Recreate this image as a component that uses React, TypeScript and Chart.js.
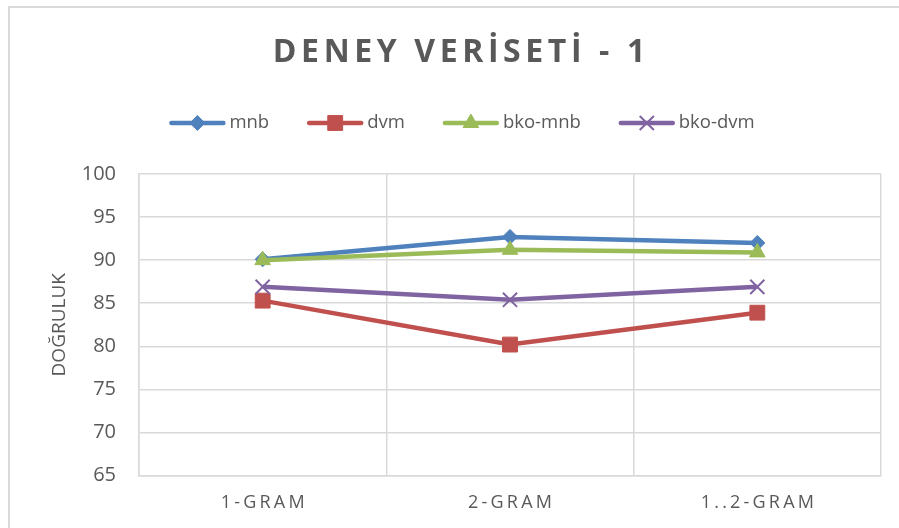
import React, { useEffect, useRef } from 'react';
import { Chart, registerables } from 'chart.js';
import { drawPoint } from 'chart.js/helpers';

Chart.register(...registerables);

// ---- data ----
const TITLE = 'DENEY VERİSETİ - 1';
const Y_TITLE = 'DOĞRULUK';
const categories = ['1-GRAM', '2-GRAM', '1..2-GRAM'];
const seriesNames = ['mnb', 'dvm', 'bko-mnb', 'bko-dvm'];
const mnb = [90.1, 92.7, 92.0];
const dvm = [85.3, 80.2, 83.9];
const bkoMnb = [90.0, 91.2, 90.9];
const bkoDvm = [86.9, 85.4, 86.9];
const yMin = 65;
const yMax = 100;
const yStep = 5;

// ---- styles ----
const FONT = "'Open Sans', 'DejaVu Sans', sans-serif";
const TEXT = '#595959';
const GRID = '#D9D9D9';
const COLORS = ['#4F81BD', '#C0504D', '#9BBB59', '#8064A2'];
const STYLES = ['rectRot', 'rect', 'triangle', 'crossRot'];
const RADII = [7.5, 10.5, 9, 10];
const BORDERW = [1, 1, 1, 2];

const titlePlugin = {
  id: 'spacedTitle',
  afterDraw(chart: any) {
    const ctx = chart.ctx;
    ctx.save();
    ctx.font = `bold 32px ${FONT}`;
    ctx.fillStyle = TEXT;
    ctx.textBaseline = 'middle';
    ctx.textAlign = 'left';
    const ls = 4.6;
    (ctx as any).letterSpacing = ls + 'px';
    const w = ctx.measureText(TITLE).width - ls;
    ctx.fillText(TITLE, 459 - w / 2, 53);
    ctx.restore();
  },
};

const xLabelPlugin = {
  id: 'spacedXLabels',
  afterDraw(chart: any) {
    const ctx = chart.ctx;
    const xs = chart.scales.x;
    ctx.save();
    ctx.font = `18px ${FONT}`;
    ctx.fillStyle = TEXT;
    ctx.textBaseline = 'middle';
    ctx.textAlign = 'left';
    const ls = 3.2;
    (ctx as any).letterSpacing = ls + 'px';
    chart.data.labels.forEach((lab: string, i: number) => {
      const x = xs.getPixelForValue(i);
      const w = ctx.measureText(lab).width - ls;
      ctx.fillText(lab, x - w / 2, xs.bottom + 27);
    });
    ctx.restore();
  },
};

const legendPlugin = {
  id: 'lineLegend',
  afterDraw(chart: any) {
    const ctx = chart.ctx;
    const ds = chart.data.datasets;
    const lineLen = 56;
    const gap = 4;
    const itemGap = 38;
    ctx.save();
    ctx.font = `18.5px ${FONT}`;
    const widths = ds.map((d: any) => ctx.measureText(d.label).width);
    const total = widths.reduce((a: number, b: number) => a + b, 0) + ds.length * (lineLen + gap) + (ds.length - 1) * itemGap;
    let x = 462 - total / 2;
    const y = 123;
    ds.forEach((d: any, i: number) => {
      ctx.strokeStyle = d.borderColor;
      ctx.lineWidth = 4.5;
      ctx.lineCap = 'round';
      ctx.beginPath();
      ctx.moveTo(x + 2, y);
      ctx.lineTo(x + lineLen - 2, y);
      ctx.stroke();
      ctx.fillStyle = d.pointBackgroundColor;
      ctx.strokeStyle = d.pointBorderColor;
      ctx.lineWidth = d.pointBorderWidth;
      ctx.lineCap = 'butt';
      drawPoint(ctx, { pointStyle: d.pointStyle, radius: d.pointRadius, borderWidth: d.pointBorderWidth, rotation: 0 } as any, x + lineLen / 2, y);
      ctx.fillStyle = TEXT;
      ctx.textAlign = 'left';
      ctx.textBaseline = 'middle';
      ctx.fillText(d.label, x + lineLen + gap, y);
      x += lineLen + gap + widths[i] + itemGap;
    });
    ctx.restore();
  },
};

export default function App() {
  const ref = useRef<HTMLCanvasElement>(null);
  useEffect(() => {
    if (!ref.current) return;
    const values = [mnb, dvm, bkoMnb, bkoDvm];
    const chart = new Chart(ref.current, {
      type: 'line',
      data: {
        labels: categories,
        datasets: seriesNames.map((name, i) => ({
          label: name,
          data: values[i],
          borderColor: COLORS[i],
          backgroundColor: COLORS[i],
          borderWidth: 4.5,
          pointStyle: STYLES[i] as any,
          pointRadius: RADII[i],
          pointBorderWidth: BORDERW[i],
          pointBackgroundColor: COLORS[i],
          pointBorderColor: COLORS[i],
          tension: 0,
          fill: false,
          order: seriesNames.length - i,
        })),
      },
      options: {
        responsive: false,
        animation: false,
        devicePixelRatio: 1,
        layout: { padding: { top: 174, left: 48.6, right: 18, bottom: 52.5 } },
        plugins: {
          legend: { display: false },
          tooltip: { enabled: false },
          title: { display: false },
        },
        scales: {
          x: {
            type: 'category',
            offset: true,
            grid: { offset: true, color: GRID, lineWidth: 1.5, drawTicks: false },
            border: { color: GRID, width: 1.5 },
            ticks: { display: false },
          },
          y: {
            min: yMin,
            max: yMax,
            ticks: {
              stepSize: yStep,
              padding: 23,
              color: TEXT,
              font: { family: FONT, size: 20 },
            },
            grid: { color: GRID, lineWidth: 1.5, drawTicks: false },
            border: { color: GRID, width: 1.5 },
            title: {
              display: true,
              text: Y_TITLE,
              color: TEXT,
              font: { family: FONT, size: 19 },
              padding: 0,
            },
            afterFit(scale: any) {
              scale.width = 139 - 48.6;
            },
          },
        },
      },
      plugins: [titlePlugin, legendPlugin, xLabelPlugin],
    });
    return () => chart.destroy();
  }, []);

  return (
    <div>
      <div
        style={{
          position: 'fixed',
          left: 8,
          top: 6,
          width: 1000,
          height: 1000,
          border: `2px solid ${GRID}`,
          boxSizing: 'border-box',
        }}
      />
      <canvas
        ref={ref}
        width={899}
        height={528}
        style={{ position: 'fixed', left: 0, top: 0, width: 899, height: 528 }}
      />
    </div>
  );
}
